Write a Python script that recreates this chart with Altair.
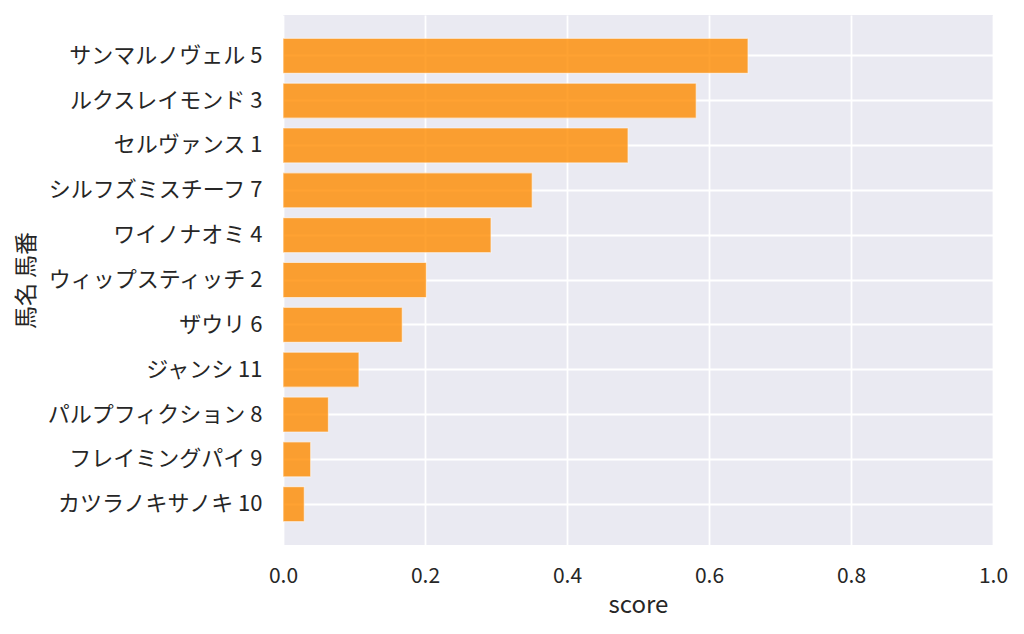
import altair as alt
import pandas as pd

names = ["サンマルノヴェル 5", "ルクスレイモンド 3", "セルヴァンス 1", "シルフズミスチーフ 7",
         "ワイノナオミ 4", "ウィップスティッチ 2", "ザウリ 6", "ジャンシ 11",
         "パルプフィクション 8", "フレイミングパイ 9", "カツラノキサノキ 10"]
scores = [0.655, 0.582, 0.486, 0.351, 0.293, 0.202, 0.168, 0.107, 0.064, 0.039, 0.030]

df = pd.DataFrame({"name": names, "score": scores})

FONT = "Noto Sans CJK JP"
TXT = "#262626"

chart = alt.Chart(df).mark_bar(
    color="#ff8c00", opacity=0.8, stroke="white", strokeOpacity=0.6, strokeWidth=1.2
).encode(
    x=alt.X("score:Q", scale=alt.Scale(domain=[0, 1], nice=False, zero=True),
            axis=alt.Axis(title="score", values=[0, 0.2, 0.4, 0.6, 0.8, 1.0], format=".1f",
                          grid=True, gridColor="white", gridWidth=1.8, domain=False,
                          ticks=False, tickSize=0, labelPadding=20, labelFontSize=21,
                          labelFlush=False, labelColor=TXT, labelFont=FONT,
                          titleFont=FONT, titleFontSize=24,
                          titleFontWeight="normal", titleColor=TXT, titleY=60,
                          titleBaseline="middle")),
    y=alt.Y("name:N", sort=names,
            scale=alt.Scale(paddingInner=0.22, paddingOuter=0.52),
            axis=alt.Axis(title="馬名 馬番", grid=True, gridColor="white", gridWidth=1.8,
                          domain=False, ticks=False, tickSize=0, labelPadding=21,
                          labelFontSize=22, labelColor=TXT, labelFont=FONT, labelLimit=400,
                          titleFont=FONT, titleFontSize=23, titleFontWeight="normal",
                          titleColor=TXT, titleX=-257, titleY=265, titleAngle=270,
                          titleAlign="center", titleBaseline="middle")),
).properties(
    width=710, height=530,
    autosize=alt.AutoSizeParams(type="none"),
    padding={"left": 275, "top": 7, "right": 20, "bottom": 80},
).configure(
    background="white",
    view=alt.ViewConfig(fill="#eaeaf2", stroke=None),
)

chart.save("out.html", embed_options={"renderer": "svg", "actions": False})
